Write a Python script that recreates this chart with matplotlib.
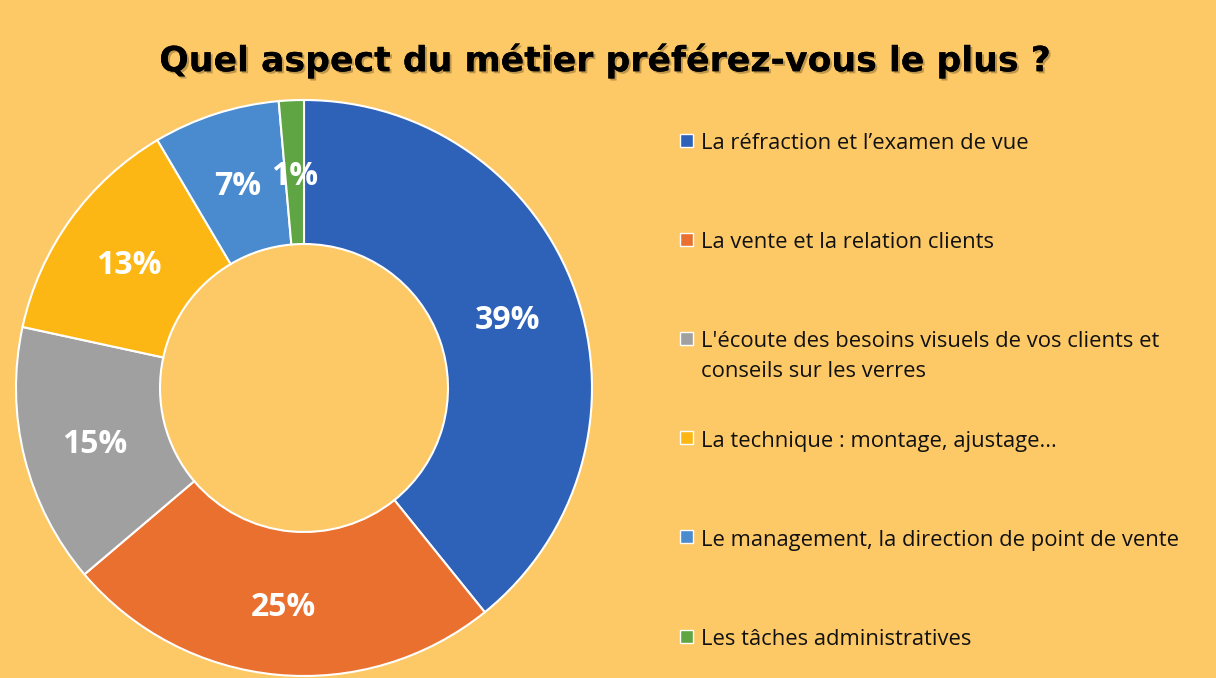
import matplotlib
matplotlib.use("Agg")
import matplotlib.pyplot as plt
from matplotlib.patches import Rectangle
import matplotlib.patheffects as pe

categories = [
    "La réfraction et l\u2019examen de vue",
    "La vente et la relation clients",
    "L'écoute des besoins visuels de vos clients et\nconseils sur les verres",
    "La technique : montage, ajustage...",
    "Le management, la direction de point de vente",
    "Les tâches administratives",
]
values = [39.2, 24.6, 14.6, 13.1, 7.1, 1.4]
pct_labels = ["39%", "25%", "15%", "13%", "7%", "1%"]
colors = ["#2E62B9", "#E9702E", "#A0A0A0", "#FDB714", "#4A8BCF", "#5FA544"]
title = "Quel aspect du métier préférez-vous le plus ?"
bg = "#FDC966"

W, H = 1216, 678
fig = plt.figure(figsize=(W / 100, H / 100), dpi=100, facecolor=bg)

# donut axes: center (304, 388) px, radius 288 px
cx, cy, r = 304, 388, 288
ax = fig.add_axes([(cx - r) / W, (H - cy - r) / H, 2 * r / W, 2 * r / H])
ax.set_facecolor(bg)
_lab_iter = iter(pct_labels)
wedges, _, autotexts = ax.pie(
    values, colors=colors, startangle=90, counterclock=False,
    radius=1.0, autopct=lambda p: next(_lab_iter), pctdistance=0.75,
    wedgeprops=dict(width=0.5, edgecolor="white", linewidth=1.5),
    textprops=dict(color="white", fontsize=23, fontweight="bold",
                   family=["Open Sans", "DejaVu Sans"]),
)
for t in autotexts:
    t.set_va("center_baseline")
ax.set_xlim(-1, 1)
ax.set_ylim(-1, 1)
ax.set_aspect("equal")
ax.axis("off")

fig.text(605 / W, 1 - 57 / H, title, ha="center", va="center_baseline",
         fontsize=25, fontweight="bold", family=["DejaVu Sans"], color="black",
         path_effects=[pe.withSimplePatchShadow(offset=(1.5, -1.5), alpha=0.25),
                       pe.Normal()])

# legend, drawn manually
y0, step = 140, 99.2
sq = 13
for i, (lab, col) in enumerate(zip(categories, colors)):
    y = y0 + i * step
    fig.patches.append(Rectangle((680 / W, 1 - (y + sq / 2) / H), sq / W, sq / H,
                                 transform=fig.transFigure, facecolor=col,
                                 edgecolor="white", linewidth=1.0))
    fig.text(701 / W, 1 - (y - 7) / H, lab, ha="left", va="top",
             fontsize=15.8, family=["Open Sans", "DejaVu Sans"], color="#111111",
             linespacing=1.55)

fig.savefig("out.png", dpi=100, facecolor=bg)
